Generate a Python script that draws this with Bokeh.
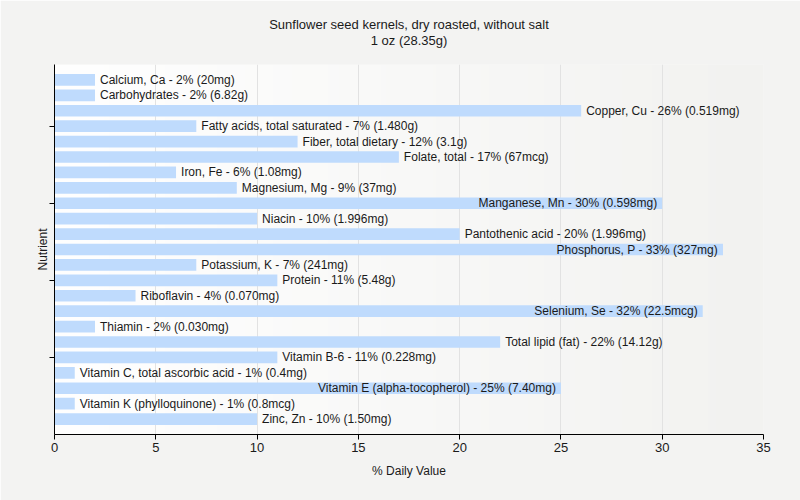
import numpy as np
from bokeh.plotting import figure
from bokeh.models import ColumnDataSource, FixedTicker, Range1d, Title
from bokeh.embed import file_html
from bokeh.resources import INLINE
from bokeh.core.properties import value

nutrients = [
    "Calcium, Ca", "Carbohydrates", "Copper, Cu", "Fatty acids, total saturated",
    "Fiber, total dietary", "Folate, total", "Iron, Fe", "Magnesium, Mg",
    "Manganese, Mn", "Niacin", "Pantothenic acid", "Phosphorus, P",
    "Potassium, K", "Protein", "Riboflavin", "Selenium, Se", "Thiamin",
    "Total lipid (fat)", "Vitamin B-6", "Vitamin C, total ascorbic acid",
    "Vitamin E (alpha-tocopherol)", "Vitamin K (phylloquinone)", "Zinc, Zn",
]
percent_dv = [2, 2, 26, 7, 12, 17, 6, 9, 30, 10, 20, 33, 7, 11, 4, 32, 2, 22, 11, 1, 25, 1, 10]
amounts = [
    "20mg", "6.82g", "0.519mg", "1.480g", "3.1g", "67mcg", "1.08mg", "37mg",
    "0.598mg", "1.996mg", "1.996mg", "327mg", "241mg", "5.48g", "0.070mg",
    "22.5mcg", "0.030mg", "14.12g", "0.228mg", "0.4mg", "7.40mg", "0.8mcg", "1.50mg",
]
x_ticks = [0, 5, 10, 15, 20, 25, 30, 35]
y_ticks = [5, 10, 15, 20]
title_line1 = "Sunflower seed kernels, dry roasted, without salt"
title_line2 = "1 oz (28.35g)"

FONT = "Liberation Sans"
n = len(nutrients)
ypos = [n - i for i in range(n)]
labels = [f"{nm} - {v}% ({a})" for nm, v, a in zip(nutrients, percent_dv, amounts)]

W, H = 800, 500
ML, MR, MT, MB = 54, 37, 64, 66
frame_w = W - ML - MR
x_max = 35
px_per_unit = frame_w / x_max

inside = []
for v, lab in zip(percent_dv, labels):
    est = len(lab) * 5.5
    inside.append(v * px_per_unit + 5 + est > frame_w)

p = figure(width=W, height=H, output_backend="svg", toolbar_location=None,
           x_range=Range1d(0, x_max), y_range=Range1d(0, n + 1),
           min_border_left=ML, min_border_right=MR, min_border_top=MT, min_border_bottom=MB)
p.border_fill_color = "#f3f3f2"
p.background_fill_color = "#f3f3f2"
p.outline_line_color = None

# gradient plot background
grad = np.zeros((1, 256), dtype=np.uint32)
view = grad.view(dtype=np.uint8).reshape((1, 256, 4))
shade = np.linspace(255, 242, 256).astype(np.uint8)
view[0, :, 0] = shade
view[0, :, 1] = shade
view[0, :, 2] = np.linspace(255, 240, 256).astype(np.uint8)
view[0, :, 3] = 255
p.image_rgba(image=[grad], x=0, y=0, dw=x_max, dh=n + 1, level="image")

src_out = ColumnDataSource(dict(
    y=[y for y, ins in zip(ypos, inside) if not ins],
    x=[v for v, ins in zip(percent_dv, inside) if not ins],
    t=[l for l, ins in zip(labels, inside) if not ins]))
src_in = ColumnDataSource(dict(
    y=[y for y, ins in zip(ypos, inside) if ins],
    x=[v for v, ins in zip(percent_dv, inside) if ins],
    t=[l for l, ins in zip(labels, inside) if ins]))

p.hbar(y=ypos, right=percent_dv, left=0, height=0.76, fill_color="#bfdbfd", line_color=None)

p.text(x="x", y="y", text="t", source=src_out, x_offset=5, text_align="left",
       text_baseline="middle", text_font=value(FONT), text_font_size="12px", text_color="#1a1a1a")
p.text(x="x", y="y", text="t", source=src_in, x_offset=-5, text_align="right",
       text_baseline="middle", text_font=value(FONT), text_font_size="12px", text_color="#1a1a1a")

# grid
p.ygrid.grid_line_color = None
p.xgrid.grid_line_color = "#e2e2e2"
p.xgrid.ticker = FixedTicker(ticks=x_ticks)

# axes
p.xaxis.ticker = FixedTicker(ticks=x_ticks)
p.xaxis.axis_label = "% Daily Value"
p.yaxis.ticker = FixedTicker(ticks=y_ticks)
p.yaxis.major_label_overrides = {t: "" for t in y_ticks}
p.yaxis.major_label_standoff = 0
p.yaxis.axis_label = "Nutrient"
for ax in (p.xaxis, p.yaxis):
    ax.axis_line_color = "black"
    ax.major_tick_line_color = "black"
    ax.minor_tick_line_color = None
    ax.major_tick_in = 0
    ax.major_tick_out = 5
    ax.axis_label_text_font = FONT
    ax.axis_label_text_font_size = "12px"
    ax.axis_label_text_font_style = "normal"
    ax.axis_label_text_color = "#1a1a1a"
    ax.major_label_text_font = FONT
    ax.major_label_text_font_size = "13px"
    ax.major_label_text_color = "#1a1a1a"
p.xaxis.major_label_standoff = 3
p.xaxis.axis_label_standoff = 9
p.yaxis.axis_label_standoff = 0

p.add_layout(Title(text=title_line2, align="center", text_font=FONT, text_font_size="13px",
                   text_font_style="normal", text_color="#1a1a1a", standoff=33), "above")
p.add_layout(Title(text=title_line1, align="center", text_font=FONT, text_font_size="13px",
                   text_font_style="normal", text_color="#1a1a1a", standoff=-34), "above")

open("out.html", "w").write(file_html(p, INLINE))
